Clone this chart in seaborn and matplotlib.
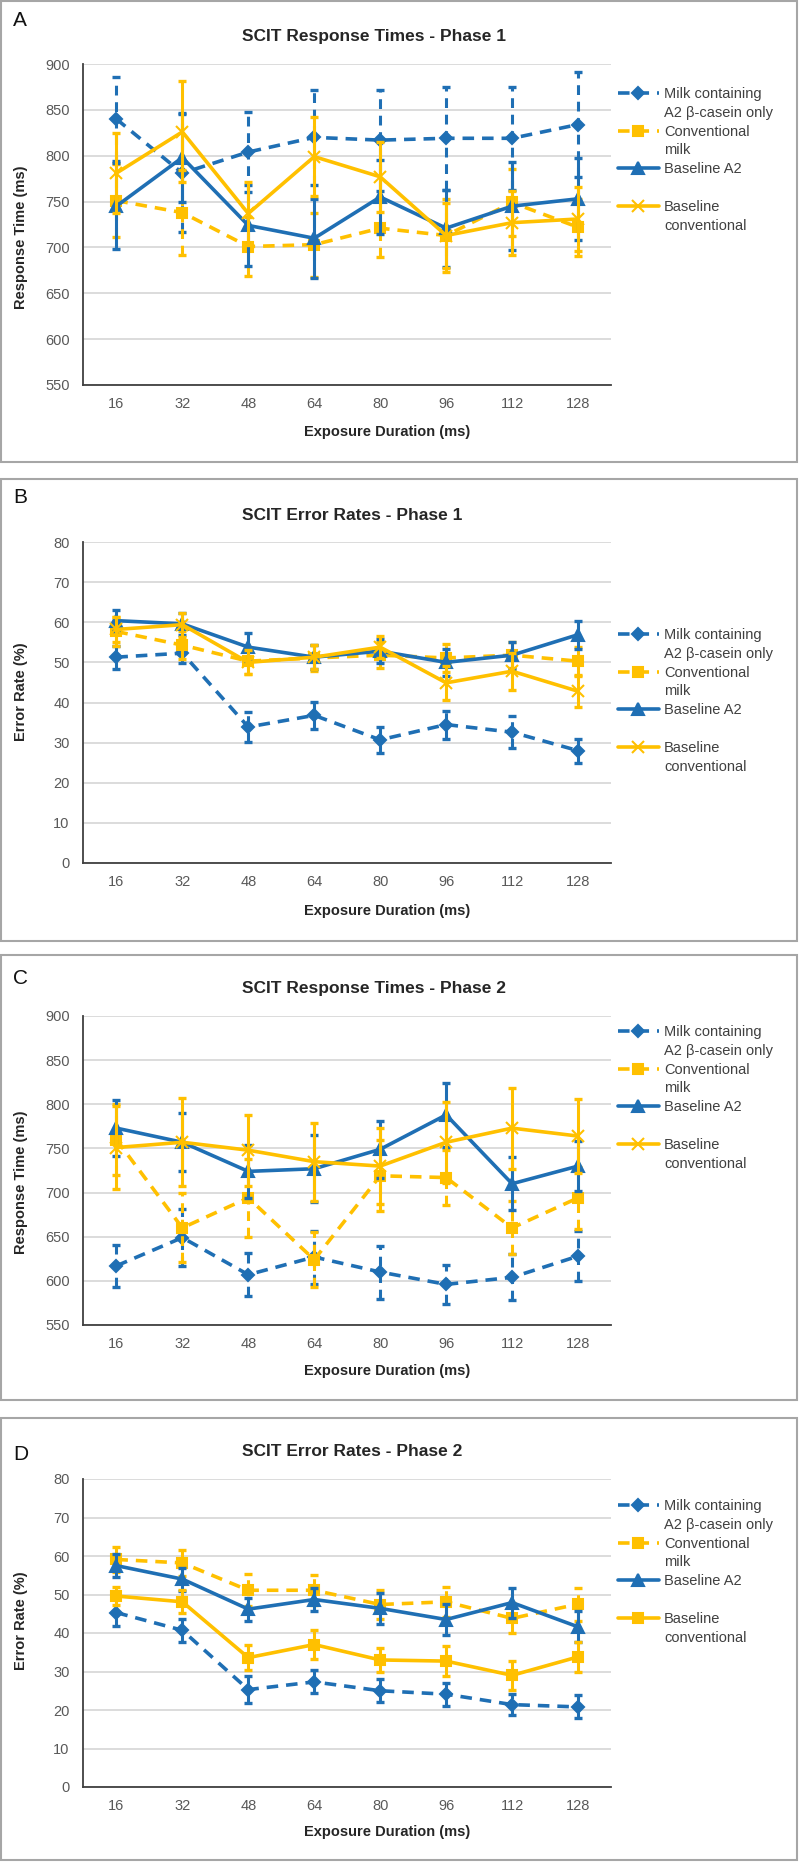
import matplotlib
matplotlib.use('Agg')
import matplotlib.pyplot as plt
import seaborn as sb
from matplotlib.lines import Line2D
from matplotlib.patches import Rectangle

# exposure durations (x categories)
exposure = ['16', '32', '48', '64', '80', '96', '112', '128']

# A - response times, phase 1
milk_rt1 = [840, 781, 804, 820, 817, 819, 819, 834]
milk_rt1_err = [46, 64, 44, 52, 55, 56, 56, 57]
conv_rt1 = [751, 738, 701, 703, 721, 713, 749, 722]
conv_rt1_err = [40, 46, 32, 35, 31, 40, 36, 31]
base_a2_rt1 = [745, 798, 724, 710, 755, 721, 745, 753]
base_a2_rt1_err = [47, 49, 44, 43, 40, 42, 48, 45]
base_conv_rt1 = [781, 826, 737, 799, 777, 713, 727, 731]
base_conv_rt1_err = [44, 55, 34, 43, 38, 35, 35, 35]

# B - error rates, phase 1
milk_er1 = [51.3, 52.3, 33.9, 36.8, 30.7, 34.5, 32.6, 28.0]
milk_er1_err = [2.9, 2.5, 3.7, 3.3, 3.2, 3.5, 4.0, 3.0]
conv_er1 = [57.7, 54.3, 50.3, 51.1, 51.8, 51.1, 51.8, 50.3]
conv_er1_err = [3.5, 3.5, 3.3, 3.3, 3.3, 3.5, 3.3, 3.5]
base_a2_er1 = [60.4, 59.6, 53.8, 51.3, 52.8, 50.0, 51.8, 56.9]
base_a2_er1_err = [2.7, 2.7, 3.5, 3.0, 3.0, 3.3, 3.4, 3.5]
base_conv_er1 = [58.2, 59.4, 50.0, 51.3, 53.8, 44.9, 47.8, 42.8]
base_conv_er1_err = [3.0, 3.0, 3.0, 3.0, 2.7, 4.2, 4.6, 3.9]

# C - response times, phase 2
milk_rt2 = [617, 649, 607, 627, 610, 596, 604, 628]
milk_rt2_err = [24, 32, 24, 30, 30, 22, 26, 28]
conv_rt2 = [760, 660, 694, 624, 719, 717, 660, 694]
conv_rt2_err = [40, 39, 44, 31, 40, 31, 30, 35]
base_a2_rt2 = [773, 757, 724, 727, 749, 788, 710, 730]
base_a2_rt2_err = [32, 33, 30, 38, 32, 36, 30, 28]
base_conv_rt2 = [751, 757, 748, 735, 730, 757, 773, 764]
base_conv_rt2_err = [47, 50, 40, 44, 43, 46, 46, 42]

# D - error rates, phase 2
milk_er2 = [45.3, 40.7, 25.3, 27.3, 25.0, 24.1, 21.4, 20.8]
milk_er2_err = [3.5, 3.0, 3.5, 3.0, 3.0, 3.0, 2.8, 3.0]
conv_er2 = [59.1, 58.2, 51.1, 51.1, 47.4, 48.1, 43.8, 47.5]
conv_er2_err = [3.3, 3.3, 4.2, 3.9, 3.8, 3.9, 3.9, 4.3]
base_a2_er2 = [57.5, 54.0, 46.2, 48.7, 46.4, 43.5, 47.9, 41.6]
base_a2_er2_err = [3.0, 3.0, 3.0, 3.0, 4.0, 4.0, 3.9, 4.0]
base_conv_er2 = [49.6, 48.1, 33.6, 37.0, 33.0, 32.7, 29.0, 33.8]
base_conv_er2_err = [2.3, 3.0, 3.2, 3.7, 3.2, 3.8, 3.7, 3.9]

legend_labels = ['Milk containing', 'A2 β-casein only', 'Conventional', 'milk',
                 'Baseline A2', ' ', 'Baseline', 'conventional']

blue = '#1F6FB4'
gold = '#FFC000'
dash = (0, (3.2, 2.2))

sb.set_style('white')
plt.rcParams['font.family'] = ['Liberation Sans', 'DejaVu Sans']

W, H = 800, 1862
fig = plt.figure(figsize=(8, 18.62), dpi=100)


def fx(px):
    return px / W


def fy(py):
    return 1 - py / H


panels = [
    dict(letter='A', title='SCIT Response Times - Phase 1', ylabel='Response Time (ms)',
         data=[(milk_rt1, milk_rt1_err), (conv_rt1, conv_rt1_err),
               (base_a2_rt1, base_a2_rt1_err), (base_conv_rt1, base_conv_rt1_err)],
         ylim=(550, 900), step=50, box=(1, 462), ax=(64, 385), title_y=36, letter_y=20,
         ylabel_y=237, xlabel_y=432, leg_y=95, last_marker='x'),
    dict(letter='B', title='SCIT Error Rates - Phase 1', ylabel='Error Rate (%)',
         data=[(milk_er1, milk_er1_err), (conv_er1, conv_er1_err),
               (base_a2_er1, base_a2_er1_err), (base_conv_er1, base_conv_er1_err)],
         ylim=(0, 80), step=10, box=(479, 941), ax=(542, 863), title_y=515, letter_y=497,
         ylabel_y=692, xlabel_y=911, leg_y=636, last_marker='x'),
    dict(letter='C', title='SCIT Response Times - Phase 2', ylabel='Response Time (ms)',
         data=[(milk_rt2, milk_rt2_err), (conv_rt2, conv_rt2_err),
               (base_a2_rt2, base_a2_rt2_err), (base_conv_rt2, base_conv_rt2_err)],
         ylim=(550, 900), step=50, box=(955, 1400), ax=(1016, 1325), title_y=989, letter_y=978,
         ylabel_y=1182, xlabel_y=1371, leg_y=1033, last_marker='x'),
    dict(letter='D', title='SCIT Error Rates - Phase 2', ylabel='Error Rate (%)',
         data=[(milk_er2, milk_er2_err), (conv_er2, conv_er2_err),
               (base_a2_er2, base_a2_er2_err), (base_conv_er2, base_conv_er2_err)],
         ylim=(0, 80), step=10, box=(1418, 1860), ax=(1479, 1787), title_y=1452, letter_y=1455,
         ylabel_y=1621, xlabel_y=1832, leg_y=1507, last_marker='s'),
]

for p in panels:
    top, bot = p['box']
    fig.add_artist(Rectangle((fx(1), fy(bot)), (797 - 1) / W, (bot - top) / H,
                             transform=fig.transFigure, fill=False, ec='#A6A6A6', lw=1.5))
    at, ab = p['ax']
    ax = fig.add_axes([fx(83.4), fy(ab), (611 - 83.4) / W, (ab - at) / H])

    styles = [(blue, dash, 'D', 6.5), (gold, dash, 's', 7.5),
              (blue, '-', '^', 8.5), (gold, '-', p['last_marker'], 9 if p['last_marker'] == 'x' else 7.5)]
    handles = []
    for i, ((vals, errs), (col, ls, mk, ms)) in enumerate(zip(p['data'], styles)):
        z = 3 + i
        eb = ax.errorbar(exposure, vals, yerr=errs, fmt='none', ecolor=col, elinewidth=2.2,
                         capsize=3, capthick=2.4, zorder=z)
        if ls != '-':
            eb[2][0].set_linestyle(ls)
        sb.lineplot(x=exposure, y=vals, color=col, linestyle=ls, linewidth=2.6, marker=mk,
                    markersize=ms, mec=col, markeredgewidth=1.5, sort=False, ax=ax, zorder=z + 0.5)
        handles.append(Line2D([], [], color=col, linestyle=ls, linewidth=2.6, marker=mk,
                              markersize=ms, mec=col, markeredgewidth=1.5))
        handles.append(Line2D([], [], color='none'))

    lo, hi = p['ylim']
    ax.set_ylim(lo, hi)
    ax.set_yticks(range(lo, hi + 1, p['step']))
    ax.set_xlim(-0.5, 7.5)
    ax.yaxis.grid(True, color='#D9D9D9', lw=1.3)
    ax.xaxis.grid(False)
    ax.set_axisbelow(True)
    for s in ['top', 'right']:
        ax.spines[s].set_visible(False)
    for s in ['left', 'bottom']:
        ax.spines[s].set_color('#404040')
        ax.spines[s].set_linewidth(1.3)
    ax.tick_params(axis='y', length=0, labelsize=10.5, labelcolor='#595959', pad=10)
    ax.tick_params(axis='x', length=0, labelsize=10.5, labelcolor='#595959', pad=9)
    ax.set_xlabel('')
    ax.set_ylabel('')

    fig.text(fx(242), fy(p['title_y']), p['title'], ha='left', va='center',
             fontsize=12.5, fontweight='bold', color='#262626')
    fig.text(fx(13), fy(p['letter_y']), p['letter'], ha='left', va='center',
             fontsize=15, color='#111111')
    fig.text(fx(21), fy(p['ylabel_y']), p['ylabel'], ha='center', va='center', rotation=90,
             fontsize=10.5, fontweight='bold', color='#262626')
    fig.text(fx(387), fy(p['xlabel_y']), 'Exposure Duration (ms)', ha='center', va='center',
             fontsize=10.5, fontweight='bold', color='#262626')

    fig.legend(handles, legend_labels, loc='upper left',
               bbox_to_anchor=(fx(618), fy(p['leg_y'] - 8)), bbox_transform=fig.transFigure,
               frameon=False, fontsize=10.5, labelspacing=0.33, handlelength=2.8,
               handletextpad=0.35, borderpad=0, borderaxespad=0, labelcolor='#404040')

fig.savefig('out.png', dpi=100)
